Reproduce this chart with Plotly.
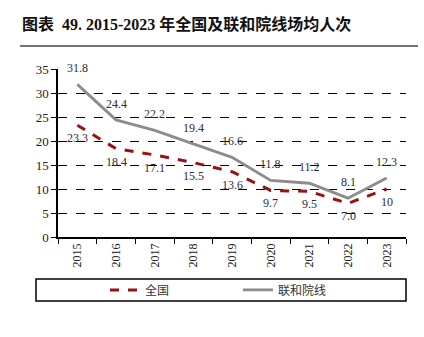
import plotly.graph_objects as go

years = ["2015", "2016", "2017", "2018", "2019", "2020", "2021", "2022", "2023"]
national = [23.3, 18.4, 17.1, 15.5, 13.6, 9.7, 9.5, 7.0, 10]
national_labels = ["23.3", "18.4", "17.1", "15.5", "13.6", "9.7", "9.5", "7.0", "10"]
lianhe = [31.8, 24.4, 22.2, 19.4, 16.6, 11.8, 11.2, 8.1, 12.3]
lianhe_labels = ["31.8", "24.4", "22.2", "19.4", "16.6", "11.8", "11.2", "8.1", "12.3"]

serif = "Liberation Serif, Times New Roman, serif"
cjk = "Noto Sans CJK SC"
label_color = "#2b2b3b"

fig = go.Figure()
fig.add_trace(go.Scatter(
    x=years, y=national, mode="lines", name="全国",
    line=dict(color="#9b1111", width=3, dash="dash"),
))
fig.add_trace(go.Scatter(
    x=years, y=lianhe, mode="lines", name="联和院线",
    line=dict(color="#8c8c8c", width=2.8),
))

annotations = []
for i, (y, t) in enumerate(zip(lianhe, lianhe_labels)):
    annotations.append(dict(x=i, y=y, xref="x", yref="y", text=t, showarrow=False, yshift=16,
                            font=dict(family=serif, size=12, color=label_color)))
for i, (y, t) in enumerate(zip(national, national_labels)):
    annotations.append(dict(x=i, y=y, xref="x", yref="y", text=t, showarrow=False, yshift=-13,
                            font=dict(family=serif, size=12, color=label_color)))
annotations.append(dict(text="<b>图表  49. 2015-2023 年全国及联和院线场均人次</b>", xref="paper", yref="paper",
                        x=-0.109, y=1.27, xanchor="left", yanchor="middle", showarrow=False,
                        font=dict(family="Liberation Serif, Noto Sans CJK SC", size=16, color="#111111")))

fig.update_layout(
    width=424, height=337,
    margin=dict(l=58, r=18, t=69, b=100),
    paper_bgcolor="white", plot_bgcolor="white",
    showlegend=True,
    legend=dict(
        orientation="h", x=0.135, y=-0.315, xanchor="left", yanchor="middle",
        font=dict(family=cjk, size=12, color="#333333"),
        entrywidth=88, entrywidthmode="pixels",
        bgcolor="rgba(0,0,0,0)", borderwidth=0,
    ),
    xaxis=dict(
        type="category", categoryorder="array", categoryarray=years,
        range=[-0.5, len(years) - 0.5],
        showgrid=False, showline=True, linecolor="black", linewidth=1.5,
        ticks="outside", tickson="boundaries", ticklen=5, tickcolor="black",
        tickangle=-90, tickfont=dict(family=serif, size=12, color="#222222"),
        zeroline=False,
    ),
    yaxis=dict(
        range=[0, 35], dtick=5, showgrid=True, gridcolor="black", griddash="dash", gridwidth=1,
        showline=True, linecolor="black", linewidth=1.5,
        ticks="outside", ticklen=5, tickcolor="black",
        tickfont=dict(family=serif, size=13, color="#222222"),
        zeroline=False,
    ),
    shapes=[
        dict(type="rect", xref="paper", yref="paper", x0=-0.0632, x1=1.0, y0=-0.381, y1=-0.25,
             line=dict(color="black", width=1.5), fillcolor="rgba(0,0,0,0)"),
        dict(type="line", xref="paper", yref="paper", x0=-0.109, x1=1.0345, y0=1.137, y1=1.137,
             line=dict(color="#444444", width=1.5)),
    ],
    annotations=annotations,
)

fig.write_html("out.html")
